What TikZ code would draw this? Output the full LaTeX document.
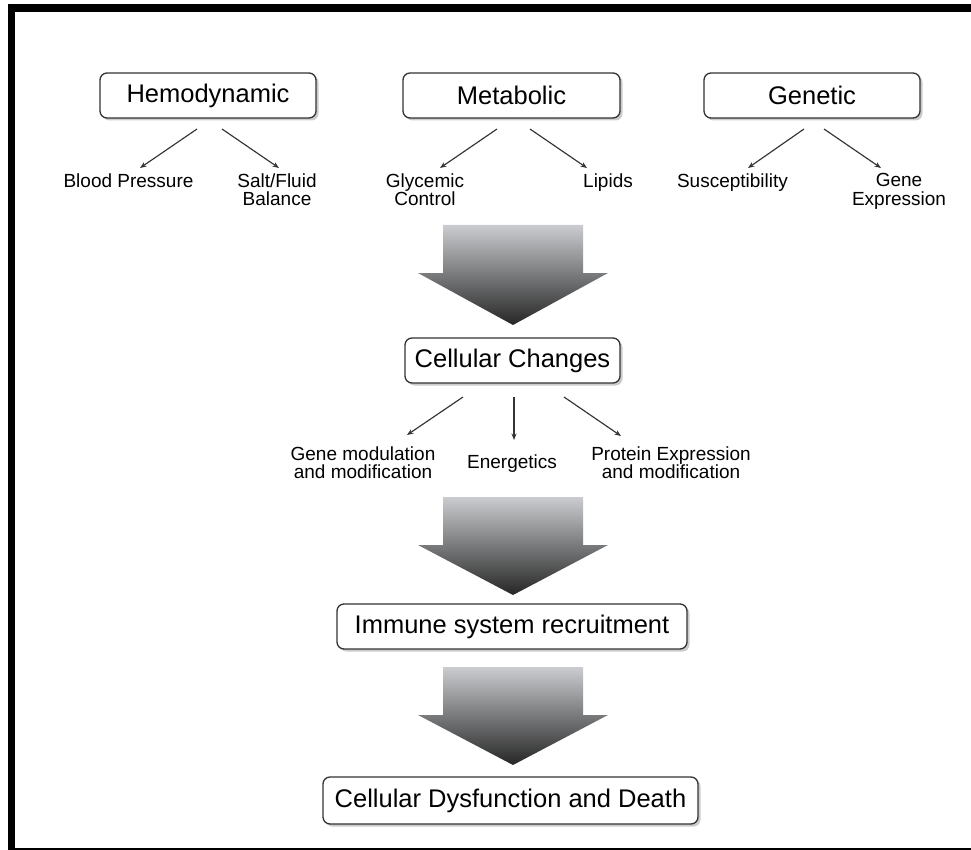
\documentclass[tikz,border=0pt]{standalone}
\usepackage{fontspec}
\setmainfont{Liberation Sans}
\usetikzlibrary{arrows.meta,shadows}
\definecolor{arrtop}{RGB}{202,204,207}
\definecolor{arrmid}{RGB}{150,150,150}
\definecolor{arrbot}{RGB}{38,38,38}
\begin{document}
\begin{tikzpicture}[x=1pt,y=-1pt,
  box/.style={draw=black!80, line width=1.3pt, rounded corners=7pt, fill=white,
    inner sep=0pt, minimum height=45pt, font=\fontsize{25.5}{28}\selectfont,
    drop shadow={shadow xshift=2.5pt, shadow yshift=-2.5pt, fill=black!40}},
  lbl/.style={inner sep=0pt, align=center, anchor=north, font=\fontsize{19}{18.5}\selectfont},
  link/.style={draw=black!80, line width=1.15pt, -{Stealth[length=6.5pt,width=5pt]}},
  bigarrow/.style={top color=arrtop, middle color=arrmid, bottom color=arrbot, draw=none}
]
\useasboundingbox (0,0) rectangle (971,850);
\fill[white] (0,0) rectangle (971,850);
% frame
\fill[black] (8,4) rectangle (971,12);
\fill[black] (8,4) rectangle (15,850);
\fill[black] (8,847.5) rectangle (971,850);

% top boxes
\node[box, minimum width=216pt] (hemo) at (208,95.5) {Hemodynamic};
\node[box, minimum width=217pt] (meta) at (511.5,95.5) {Metabolic};
\node[box, minimum width=216pt] (gene) at (812,95.5) {Genetic};

% top labels
\node[lbl] (bp) at (128.5,173.5) {Blood Pressure};
\node[lbl] (sf) at (277,173.5) {Salt/Fluid\\Balance};
\node[lbl] (gc) at (425,173.5) {Glycemic\\Control};
\node[lbl] (lp) at (608,173.5) {Lipids};
\node[lbl] (su) at (732.5,173.5) {Susceptibility};
\node[lbl] (ge) at (899,173.5) {Gene\\Expression};

% top arrows
\coordinate (h1s) at (197,129); \coordinate (h1e) at (140,168);
\coordinate (h2s) at (222,129); \coordinate (h2e) at (279,168);
\coordinate (m1s) at (497,129); \coordinate (m1e) at (440,168);
\coordinate (m2s) at (530,129); \coordinate (m2e) at (587,168);
\coordinate (g1s) at (804,129); \coordinate (g1e) at (748,168);
\coordinate (g2s) at (824,129); \coordinate (g2e) at (881,168);
\draw[link] (h1s) -- (h1e);
\draw[link] (h2s) -- (h2e);
\draw[link] (m1s) -- (m1e);
\draw[link] (m2s) -- (m2e);
\draw[link] (g1s) -- (g1e);
\draw[link] (g2s) -- (g2e);

% big arrow 1
\shade[bigarrow] (443,225) -- (583,225) -- (583,273) -- (608,273) -- (513,325)
  -- (418,273) -- (443,273) -- cycle;

\node[box, minimum width=215pt] (cell) at (512.5,360.5) {Cellular Changes};

\node[lbl] (gm) at (363,446.5) {Gene modulation\\and modification};
\node[lbl] (en) at (512,454.5) {Energetics};
\node[lbl] (pe) at (671,446.5) {Protein Expression\\and modification};

\coordinate (c1s) at (463,397); \coordinate (c1e) at (407,435);
\coordinate (c2s) at (514,397); \coordinate (c2e) at (514,440);
\coordinate (c3s) at (564,397); \coordinate (c3e) at (621,436);
\draw[link] (c1s) -- (c1e);
\draw[link] (c2s) -- (c2e);
\draw[link] (c3s) -- (c3e);

% big arrow 2
\shade[bigarrow] (443,497) -- (583,497) -- (583,545) -- (608,545) -- (513,595)
  -- (418,545) -- (443,545) -- cycle;

\node[box, minimum width=350pt] (imm) at (512,626.5) {Immune system recruitment};

% big arrow 3
\shade[bigarrow] (443,667) -- (583,667) -- (583,715) -- (608,715) -- (513,765)
  -- (418,715) -- (443,715) -- cycle;

\node[box, minimum width=375pt, minimum height=47pt] (dys) at (510.5,800.5) {Cellular Dysfunction and Death};
\end{tikzpicture}
\end{document}
